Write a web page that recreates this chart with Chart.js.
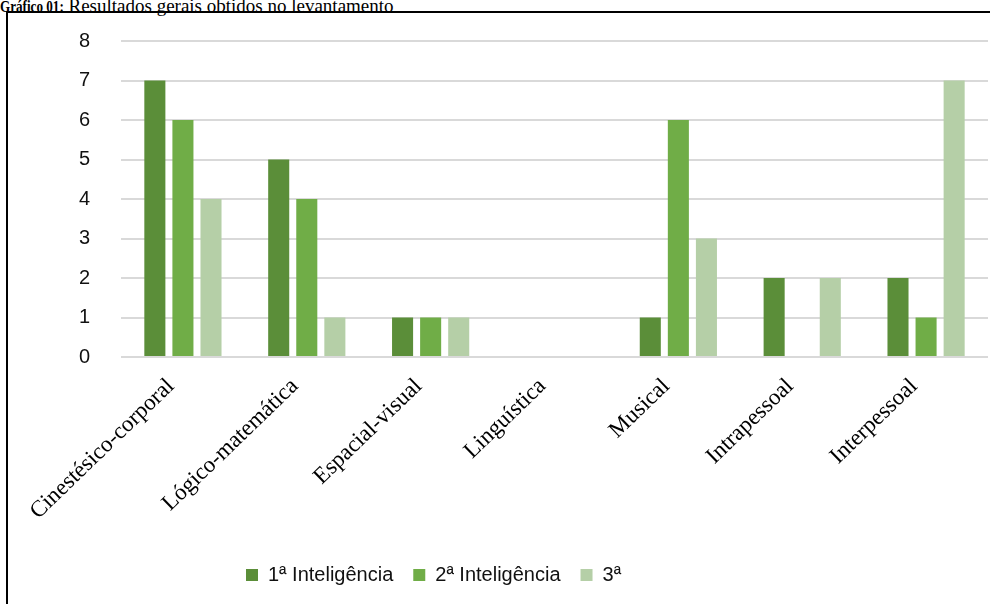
<!DOCTYPE html>
<html lang="pt">
<head>
<meta charset="utf-8">
<title>Gráfico 01</title>
<script src="https://cdn.jsdelivr.net/npm/chart.js@4.4.1/dist/chart.umd.min.js"></script>
<style>
  html, body { margin: 0; padding: 0; background: #fff; }
  body { width: 990px; height: 604px; position: relative; overflow: hidden; }
  #titulo {
    position: absolute; left: 0; top: -5px; white-space: nowrap;
    font-family: 'Liberation Serif', 'Times New Roman', serif; font-size: 19px; color: #000;
  }
  #titulo b {
    display: inline-block; font-size: 16px; transform: scaleX(0.82); transform-origin: left center;
    margin-right: -14px;
  }
  #moldura {
    position: absolute; left: 6px; top: 11px; width: 984px; height: 593px;
    border-top: 2px solid #000; border-left: 2px solid #000;
  }
  #grafico-wrap { position: absolute; left: 0; top: 0; width: 982px; height: 591px; }
</style>
</head>
<body>
<div id="titulo"><b>Gráfico 01:</b> Resultados gerais obtidos no levantamento</div>
<div id="moldura">
  <div id="grafico-wrap"><canvas id="grafico-01"></canvas></div>
</div>
<script>
// Dados
const categorias = [
  'Cinestésico-corporal', 'Lógico-matemática', 'Espacial-visual', 'Linguística',
  'Musical', 'Intrapessoal', 'Interpessoal',
];
const primeira = [7, 5, 1, 0, 1, 2, 2];
const segunda = [6, 4, 1, 0, 6, 0, 1];
const terceira = [4, 1, 1, 0, 3, 2, 7];
const rotulosSeries = ['1ª Inteligência', '2ª Inteligência', '3ª'];
const coresSeries = ['#5B8E39', '#70AD47', '#B5CFA7'];

Chart.defaults.font.family = "'Liberation Sans', Arial, sans-serif";
Chart.defaults.color = '#111';

// move a legenda para a posição do original (não centrada)
const legendaDeslocada = {
  id: 'legendaDeslocada',
  afterLayout(c) {
    if (c.legend) c.legend.left = 218;
  },
};

const ctx = document.getElementById('grafico-01');
const chart = new Chart(ctx, {
  type: 'bar',
  data: {
    labels: categorias,
    datasets: [primeira, segunda, terceira].map((valores, i) => ({
      label: rotulosSeries[i],
      data: valores,
      backgroundColor: coresSeries[i],
      categoryPercentage: 0.68,
      barPercentage: 0.75,
    })),
  },
  options: {
    responsive: true,
    maintainAspectRatio: false,
    animation: false,
    layout: {
      padding: { top: 0, right: 2, bottom: 9, left: 0 },
    },
    scales: {
      x: {
        grid: { display: false },
        border: { display: false },
        ticks: {
          font: { family: "'Liberation Serif', 'Times New Roman', serif", size: 23 },
          color: '#000',
          minRotation: 44,
          maxRotation: 44,
          padding: 8,
          labelOffset: -12,
        },
        afterFit(s) { s.height = 188; },
      },
      y: {
        min: 0,
        max: 8,
        border: { display: false },
        grid: { color: '#D9D9D9', lineWidth: 2, drawTicks: false },
        ticks: { stepSize: 1, padding: 31, font: { size: 20 }, color: '#111' },
        afterFit(s) {
          s.width = 113;
          // o padding dos ticks empurrava o topo da área para baixo
          s.paddingTop = 28;
          s.paddingBottom = 12;
        },
      },
    },
    plugins: {
      legend: {
        position: 'bottom',
        align: 'start',
        labels: {
          boxWidth: 12,
          boxHeight: 12,
          padding: 20,
          font: { size: 20 },
          color: '#111',
        },
      },
      tooltip: { enabled: false },
    },
  },
  plugins: [legendaDeslocada],
});
</script>
</body>
</html>
